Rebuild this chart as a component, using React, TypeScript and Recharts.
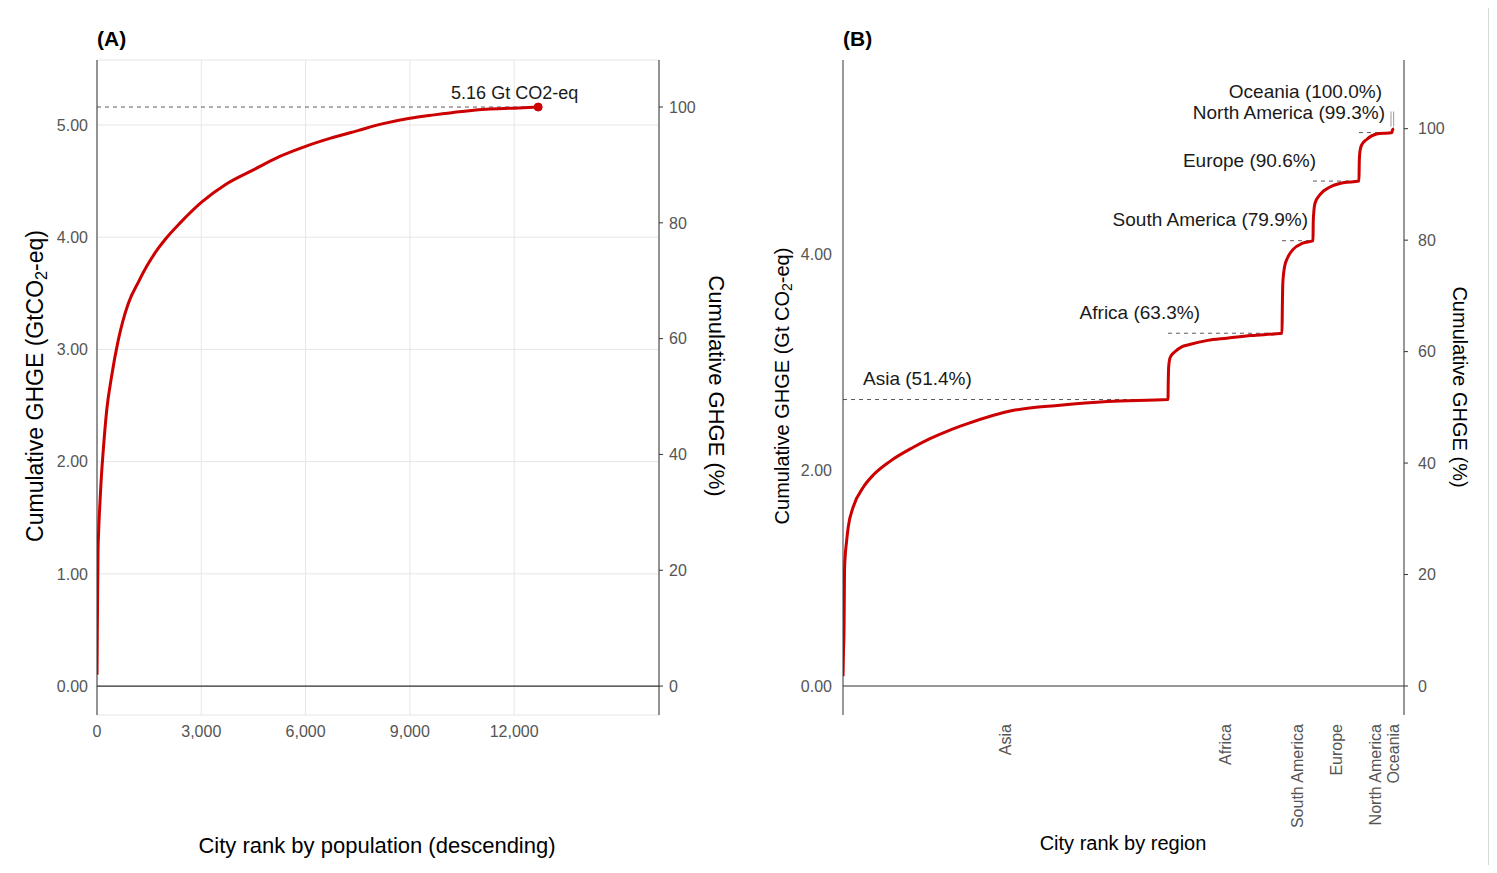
import React from 'react';
import {
  LineChart,
  Line,
  XAxis,
  YAxis,
  CartesianGrid,
  ReferenceLine,
  ReferenceDot,
} from 'recharts';

// (A) cumulative GHGE, cities ranked by population (descending)
const rankA = [
  0, 8, 18, 30, 45, 60, 85, 115, 180, 280, 420, 610, 900, 1190, 1430, 1760,
  1960, 2400, 3000, 3700, 4500, 5260, 6000, 6700, 7500, 8200, 9000, 9700,
  10500, 11200, 12000, 12690,
];
const ghgeA = [
  0.1, 0.45, 0.83, 1.2, 1.36, 1.48, 1.63, 1.81, 2.1, 2.46, 2.76, 3.08, 3.41,
  3.6, 3.74, 3.9, 3.98, 4.13, 4.31, 4.47, 4.6, 4.72, 4.81, 4.88, 4.95, 5.01,
  5.06, 5.09, 5.12, 5.14, 5.15, 5.16,
];

// (B) cumulative GHGE, cities ranked within region
const rankB = [
  0, 10, 25, 35, 50, 80, 120, 237, 467, 714, 1081, 1619, 2003, 2464, 2803,
  3900, 4998, 6094, 7485,
  7490, 7500, 7520, 7560, 7630, 7800, 7960, 8400, 8840, 9400, 9936, 10110,
  10118, 10128, 10168, 10245, 10360, 10590, 10824,
  10830, 10845, 10870, 10985, 11215, 11522, 11883,
  11890, 11905, 11945, 12060, 12290, 12557, 12643,
  12655, 12690,
];
const ghgeB = [
  0.09, 0.3, 0.55, 1.07, 1.2, 1.33, 1.47, 1.66, 1.84, 1.96, 2.08, 2.21, 2.29,
  2.37, 2.42, 2.55, 2.6, 2.635, 2.652,
  2.8, 2.95, 3.02, 3.06, 3.09, 3.14, 3.16, 3.2, 3.22, 3.245, 3.26, 3.266,
  3.5, 3.72, 3.88, 3.97, 4.04, 4.1, 4.123,
  4.3, 4.4, 4.47, 4.55, 4.62, 4.66, 4.675,
  4.85, 4.95, 5.01, 5.06, 5.11, 5.12, 5.124,
  5.15, 5.16,
];

const regions = ['Asia', 'Africa', 'South America', 'Europe', 'North America', 'Oceania'];
const regionCities = [7485, 2625, 714, 1059, 760, 47];
const regionShare = [51.4, 63.3, 79.9, 90.6, 99.3, 100.0];

const TOTAL_GT = 5.16;
const popTicks = [0, 3000, 6000, 9000, 12000];
const gtTicksA = [0, 1, 2, 3, 4, 5];
const gtTicksB = [0, 2, 4];
const pctTicks = [0, 20, 40, 60, 80, 100];

const RED = '#CC0000';
const AXIS = '#333333';
const TICK = '#555555';
const DASH = '#5a5a5a';
const FONT = "'Liberation Sans', Arial, sans-serif";

// axis ranges, chosen so 0 sits at the same height in both panels
const gtDomA = [-0.258, 5.579];
const gtDomB = [-0.2685, 5.796];
const toPct = (d: number[]) => d.map((v) => (v / TOTAL_GT) * 100);

const dataA = rankA.map((rank, i) => ({ rank, ghge: ghgeA[i] }));
const dataB = rankB.map((rank, i) => ({ rank, ghge: ghgeB[i] }));

const regionEnd = regionCities.reduce<number[]>(
  (acc, n, i) => [...acc, (i ? acc[i - 1] : 0) + n],
  [],
);
const regionStart = regionEnd.map((e, i) => e - regionCities[i]);
const regionMid = regionStart.map((s, i) => (s + regionEnd[i]) / 2);
const regionGt = regionShare.map((s) => (s / 100) * TOTAL_GT);

// where the region labels were nudged to (px, from each region's end point)
const labelNudge = [
  { anchor: 'start', dx: -305, dy: -15 },
  { anchor: 'end', dx: -82, dy: -14 },
  { anchor: 'end', dx: -5, dy: -15 },
  { anchor: 'end', dx: -43, dy: -14 },
  { anchor: 'end', dx: -7, dy: -14 },
  { anchor: 'end', dx: -12, dy: -31 },
];

const GtTitle = ({ x, y, size, spaced }: { x: number; y: number; size: number; spaced?: boolean }) => (
  <text
    x={x}
    y={y}
    transform={`rotate(-90, ${x}, ${y})`}
    textAnchor="middle"
    dominantBaseline="central"
    fontSize={size}
    fill="#000"
  >
    Cumulative GHGE (Gt{spaced ? ' ' : ''}CO
    <tspan fontSize={size * 0.7} dy={size * 0.25}>2</tspan>
    <tspan dy={-size * 0.25}>-eq)</tspan>
  </text>
);

const Title = ({ x, y, size, angle = 0, text }: { x: number; y: number; size: number; angle?: number; text: string }) => (
  <text
    x={x}
    y={y}
    transform={angle ? `rotate(${angle}, ${x}, ${y})` : undefined}
    textAnchor="middle"
    dominantBaseline="central"
    fontSize={size}
    fill="#000"
  >
    {text}
  </text>
);

const RegionTick = (props: any) => {
  const { x, y, payload } = props;
  const i = regionMid.indexOf(payload.value);
  return (
    <g transform={`translate(${x},${y})`}>
      <text transform="rotate(-90)" textAnchor="end" dy="0.35em" fontSize={16} fill={TICK}>
        {regions[i]}
      </text>
    </g>
  );
};

const regionLabel = (i: number) => (props: any) => {
  const vb = props.viewBox;
  const n = labelNudge[i];
  return (
    <text
      x={vb.x + vb.width + n.dx}
      y={vb.y + n.dy}
      textAnchor={n.anchor as any}
      fontSize={19}
      fill="#1a1a1a"
    >
      {`${regions[i]} (${regionShare[i].toFixed(1)}%)`}
    </text>
  );
};

const totalLabel = (props: any) => {
  const vb = props.viewBox;
  const cx = vb.x + vb.width / 2;
  const cy = vb.y + vb.height / 2;
  return (
    <text x={cx + 40} y={cy - 8} textAnchor="end" fontSize={18} fill="#1a1a1a">
      {`${TOTAL_GT.toFixed(2)} Gt CO2-eq`}
    </text>
  );
};

const ChartA = () => (
  <LineChart width={742} height={857} data={dataA} margin={{ top: 52, right: 11, bottom: 0, left: 0 }}>
    <CartesianGrid stroke="#E6E6E6" strokeWidth={1} />
    <XAxis
      dataKey="rank"
      type="number"
      domain={[0, 16165]}
      ticks={popTicks}
      interval={0}
      allowDataOverflow
      tickFormatter={(v: number) => v.toLocaleString('en-US')}
      axisLine={false}
      tickLine={false}
      tickSize={0}
      tickMargin={11}
      height={150}
      tick={{ fill: TICK, fontSize: 16 }}
      label={() => <Title x={369} y={837} size={22} text="City rank by population (descending)" />}
    />
    <YAxis
      type="number"
      domain={gtDomA}
      ticks={gtTicksA}
      interval={0}
      allowDataOverflow
      width={89}
      tickFormatter={(v: number) => v.toFixed(2)}
      axisLine={{ stroke: AXIS }}
      tickLine={false}
      tickSize={0}
      tickMargin={9}
      tick={{ fill: TICK, fontSize: 16 }}
      label={() => <GtTitle x={27} y={378} size={23} />}
    />
    <YAxis
      yAxisId="pct"
      orientation="right"
      type="number"
      domain={toPct(gtDomA)}
      ticks={pctTicks}
      interval={0}
      allowDataOverflow
      width={80}
      axisLine={{ stroke: AXIS }}
      tickLine={{ stroke: AXIS }}
      tickSize={4}
      tickMargin={6}
      tick={{ fill: TICK, fontSize: 16 }}
      label={() => <Title x={708} y={378} size={22} angle={90} text="Cumulative GHGE (%)" />}
    />
    <ReferenceLine y={0} stroke={AXIS} strokeWidth={1.2} />
    <ReferenceLine
      segment={[
        { x: 0, y: TOTAL_GT },
        { x: rankA[rankA.length - 1], y: TOTAL_GT },
      ]}
      stroke={DASH}
      strokeDasharray="4 4"
    />
    <Line
      dataKey="ghge"
      type="monotone"
      stroke={RED}
      strokeWidth={3}
      dot={false}
      activeDot={false}
      isAnimationActive={false}
    />
    <ReferenceDot
      x={rankA[rankA.length - 1]}
      y={TOTAL_GT}
      r={4}
      fill={RED}
      stroke={RED}
      label={totalLabel}
    />
  </LineChart>
);

const ChartB = () => (
  <LineChart width={731} height={857} data={dataB} margin={{ top: 52, right: 0, bottom: 0, left: 0 }}>
    <XAxis
      dataKey="rank"
      type="number"
      domain={[0, 12920]}
      ticks={regionMid}
      interval={0}
      allowDataOverflow
      axisLine={false}
      tickLine={false}
      tickSize={0}
      tickMargin={9}
      height={150}
      tick={<RegionTick />}
      label={() => <Title x={373} y={835} size={20} text="City rank by region" />}
    />
    <YAxis
      type="number"
      domain={gtDomB}
      ticks={gtTicksB}
      interval={0}
      allowDataOverflow
      width={93}
      tickFormatter={(v: number) => v.toFixed(2)}
      axisLine={{ stroke: AXIS }}
      tickLine={false}
      tickSize={0}
      tickMargin={11}
      tick={{ fill: TICK, fontSize: 16 }}
      label={() => <GtTitle x={32} y={378} size={20} spaced />}
    />
    <YAxis
      yAxisId="pct"
      orientation="right"
      type="number"
      domain={toPct(gtDomB)}
      ticks={pctTicks}
      interval={0}
      allowDataOverflow
      width={77}
      axisLine={{ stroke: AXIS }}
      tickLine={{ stroke: AXIS }}
      tickSize={4}
      tickMargin={10}
      tick={{ fill: TICK, fontSize: 16 }}
      label={() => <Title x={710} y={379} size={20} angle={90} text="Cumulative GHGE (%)" />}
    />
    <ReferenceLine y={0} stroke={AXIS} strokeWidth={1.2} />
    {regions.map((r, i) => (
      <ReferenceLine
        key={r}
        segment={[
          { x: regionStart[i], y: regionGt[i] },
          { x: regionEnd[i], y: regionGt[i] },
        ]}
        stroke={DASH}
        strokeDasharray="4 4"
        label={regionLabel(i)}
      />
    ))}
    {/* leader lines of the two crowded labels */}
    <ReferenceLine
      segment={[
        { x: 12620, y: 5.18 },
        { x: 12620, y: 5.32 },
      ]}
      stroke="#999"
    />
    <ReferenceLine
      segment={[
        { x: 12682, y: 5.18 },
        { x: 12682, y: 5.32 },
      ]}
      stroke="#999"
    />
    <Line
      dataKey="ghge"
      type="monotone"
      stroke={RED}
      strokeWidth={3}
      dot={false}
      activeDot={false}
      isAnimationActive={false}
    />
  </LineChart>
);

const tagStyle: React.CSSProperties = {
  position: 'absolute',
  top: 20,
  fontWeight: 'bold',
  fontSize: 21,
  lineHeight: '21px',
  color: '#000',
};

export default function App() {
  return (
    <div style={{ position: 'relative', width: 1481, height: 857, fontFamily: FONT }}>
      <div
        style={{
          position: 'absolute',
          left: -1,
          top: -1,
          width: 1482,
          height: 864,
          border: '1px solid #D9D9D9',
          boxSizing: 'border-box',
        }}
      />
      <div style={{ position: 'absolute', left: 0, top: 0 }}>
        <ChartA />
      </div>
      <div style={{ position: 'absolute', left: 742, top: 0 }}>
        <ChartB />
      </div>
      <div style={{ ...tagStyle, left: 89 }}>(A)</div>
      <div style={{ ...tagStyle, left: 835 }}>(B)</div>
    </div>
  );
}
